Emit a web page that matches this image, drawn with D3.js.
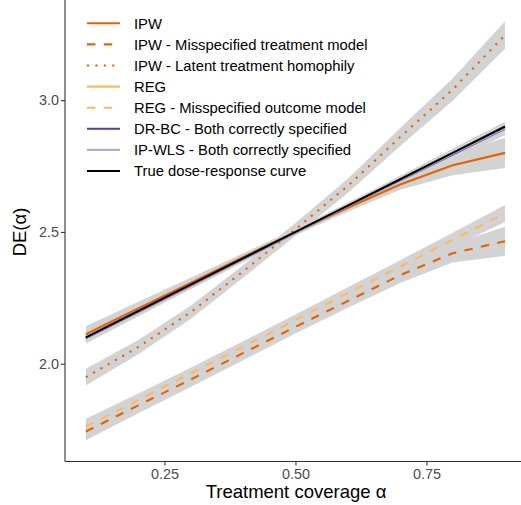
<!DOCTYPE html>
<html>
<head>
<meta charset="utf-8">
<script src="https://cdn.jsdelivr.net/npm/d3@7"></script>
<style>
html,body{margin:0;padding:0;background:#fff;}
svg{display:block;font-family:"Liberation Sans",Arial,Helvetica,sans-serif;}
</style>
</head>
<body>
<svg id="chart" width="521" height="505"></svg>
<script>
const alpha = [0.1,0.2,0.3,0.4,0.5,0.6,0.7,0.8,0.9];

const ipw      = [2.112,2.210,2.306,2.404,2.500,2.592,2.680,2.753,2.800];
const ipwLo    = [2.082,2.185,2.286,2.389,2.488,2.577,2.660,2.715,2.743];
const ipwHi    = [2.142,2.235,2.326,2.419,2.512,2.607,2.700,2.795,2.857];

const ipwMis   = [1.743,1.842,1.940,2.040,2.140,2.238,2.336,2.419,2.465];
const ipwMisLo = [1.710,1.812,1.912,2.013,2.115,2.212,2.306,2.384,2.410];
const ipwMisHi = [1.776,1.872,1.968,2.067,2.165,2.264,2.366,2.454,2.520];

const ipwLat   = [1.949,2.063,2.195,2.350,2.510,2.675,2.860,3.040,3.247];
const ipwLatLo = [1.917,2.036,2.170,2.326,2.486,2.648,2.826,2.998,3.195];
const ipwLatHi = [1.981,2.090,2.220,2.374,2.534,2.702,2.894,3.082,3.299];

const reg      = [2.098,2.198,2.298,2.399,2.500,2.600,2.699,2.798,2.897];
const regLo    = [2.083,2.185,2.287,2.389,2.490,2.589,2.687,2.784,2.880];
const regHi    = [2.113,2.211,2.309,2.409,2.510,2.611,2.711,2.812,2.914];

const regMis   = [1.762,1.862,1.963,2.064,2.166,2.268,2.369,2.470,2.570];
const regMisLo = [1.733,1.837,1.941,2.043,2.145,2.246,2.345,2.443,2.538];
const regMisHi = [1.791,1.887,1.985,2.085,2.187,2.290,2.393,2.497,2.602];

const drbc     = [2.097,2.197,2.297,2.397,2.498,2.598,2.696,2.794,2.892];
const drbcLo   = [2.077,2.180,2.283,2.385,2.487,2.585,2.680,2.774,2.867];
const drbcHi   = [2.117,2.214,2.311,2.409,2.509,2.611,2.712,2.814,2.917];

const ipwls    = [2.099,2.198,2.298,2.398,2.499,2.598,2.697,2.796,2.894];
const ipwlsLo  = [2.079,2.181,2.284,2.386,2.488,2.585,2.681,2.776,2.870];
const ipwlsHi  = [2.119,2.215,2.312,2.410,2.510,2.611,2.713,2.816,2.918];

const trueCurve = [2.1,2.2,2.3,2.4,2.5,2.6,2.7,2.8,2.9];

const seriesNames = [
  "IPW",
  "IPW - Misspecified treatment model",
  "IPW - Latent treatment homophily",
  "REG",
  "REG - Misspecified outcome model",
  "DR-BC - Both correctly specified",
  "IP-WLS - Both correctly specified",
  "True dose-response curve"
];
const seriesColors = ["#e66101","#e66101","#e66101","#fdb863","#fdb863","#5e3c99","#b2abd2","#000000"];
const seriesTypes = ["solid","dashed","dotted","solid","dashed","solid","solid","solid"];

const xTicks = [0.25,0.50,0.75];
const yTicks = [2.0,2.5,3.0];

const series = [
  {v: ipw, lo: ipwLo, hi: ipwHi},
  {v: ipwMis, lo: ipwMisLo, hi: ipwMisHi},
  {v: ipwLat, lo: ipwLatLo, hi: ipwLatHi},
  {v: reg, lo: regLo, hi: regHi},
  {v: regMis, lo: regMisLo, hi: regMisHi},
  {v: drbc, lo: drbcLo, hi: drbcHi},
  {v: ipwls, lo: ipwlsLo, hi: ipwlsHi},
  {v: trueCurve, lo: null, hi: null}
].map((s,i)=>({...s, name: seriesNames[i], color: seriesColors[i], type: seriesTypes[i]}));

const svg = d3.select("#chart");
const left = 65, bottom = 461.5;

const x = d3.scaleLinear().domain([0.06, 0.94]).range([64.9, 526.0]);
const y = d3.scaleLinear().domain([1.629, 3.38]).range([bottom, 0]);

const lw = 2.1;
const dashFor = t => t === "dashed" ? `${4*lw},${4*lw}` : t === "dotted" ? `${lw},${3*lw}` : null;

// ribbons
const area = d3.area().x((d)=>x(d[0])).y0(d=>y(d[1])).y1(d=>y(d[2]));
const gR = svg.append("g");
series.filter(s=>s.lo).forEach(s=>{
  const pts = alpha.map((a,i)=>[a, s.lo[i], s.hi[i]]);
  gR.append("path").attr("d", area(pts))
    .attr("fill","#d3d3d3").attr("stroke","none");
});

// lines
const line = d3.line().x(d=>x(d[0])).y(d=>y(d[1]));
const gL = svg.append("g");
series.forEach(s=>{
  const pts = alpha.map((a,i)=>[a, s.v[i]]);
  gL.append("path").attr("d", line(pts))
    .attr("fill","none").attr("stroke", s.color).attr("stroke-width", lw)
    .attr("stroke-dasharray", dashFor(s.type));
});

// axes
const xAxis = d3.axisBottom(x).tickValues(xTicks).tickFormat(d3.format(".2f")).tickSize(4).tickPadding(3);
const yAxis = d3.axisLeft(y).tickValues(yTicks).tickFormat(d3.format(".1f")).tickSize(4).tickPadding(2);

const gx = svg.append("g").attr("transform",`translate(0,${bottom})`).call(xAxis);
const gy = svg.append("g").attr("transform",`translate(${left},0)`).call(yAxis);
[gx,gy].forEach(g=>{
  g.select(".domain").remove();
  g.selectAll(".tick line").attr("stroke","#333").attr("stroke-width",1.1);
  g.selectAll(".tick text").attr("fill","#4d4d4d").style("font-size","14.4px")
    .style("font-family","'Liberation Sans',Arial,sans-serif");
});
svg.append("line").attr("x1",left).attr("x2",left).attr("y1",0).attr("y2",bottom)
  .attr("stroke","#333").attr("stroke-width",1.1);
svg.append("line").attr("x1",left).attr("x2",521).attr("y1",bottom).attr("y2",bottom)
  .attr("stroke","#333").attr("stroke-width",1.1);

// titles
svg.append("text").attr("x", 296).attr("y", 498).attr("text-anchor","middle")
  .style("font-size","18.5px").attr("fill","#000").text("Treatment coverage α");
svg.append("text").attr("transform","translate(26,232) rotate(-90)").attr("text-anchor","middle")
  .style("font-size","18.5px").attr("fill","#000").text("DE(α)");

// legend
const lg = svg.append("g");
series.forEach((s,i)=>{
  const yy = 23.3 + i*21.1;
  lg.append("line").attr("x1",87).attr("x2",120).attr("y1",yy).attr("y2",yy)
    .attr("stroke", s.color).attr("stroke-width", lw).attr("stroke-dasharray", dashFor(s.type));
  lg.append("text").attr("x",134).attr("y",yy).attr("dy","0.36em")
    .style("font-size","14.8px").attr("fill","#000").text(s.name);
});
</script>
</body>
</html>
